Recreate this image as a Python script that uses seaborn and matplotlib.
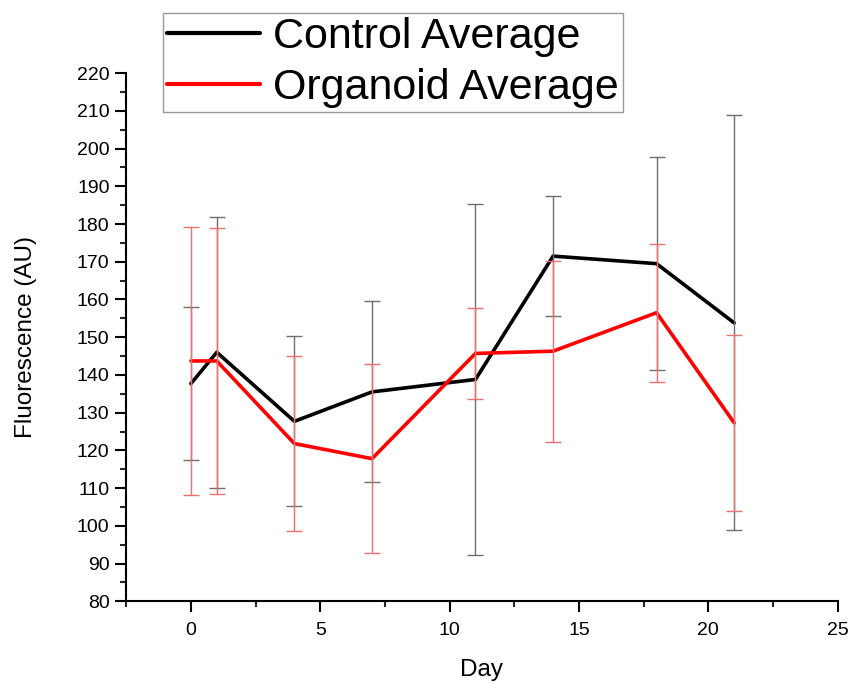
import numpy as np
import pandas as pd
import matplotlib
matplotlib.use("Agg")
import matplotlib.pyplot as plt
from matplotlib.ticker import MultipleLocator
import seaborn as sns

days = [0, 1, 4, 7, 11, 14, 18, 21]
control_mean = [137.7, 146.0, 127.7, 135.5, 138.8, 171.5, 169.5, 153.8]
control_err = [20.3, 36.0, 22.5, 24.0, 46.6, 16.0, 28.2, 55.0]
organoid_mean = [143.7, 143.7, 121.8, 117.8, 145.7, 146.3, 156.5, 127.3]
organoid_err = [35.5, 35.3, 23.3, 25.0, 12.0, 24.0, 18.3, 23.4]

labels = ["Control Average", "Organoid Average"]
colors = {"Control Average": "#000000", "Organoid Average": "#ff0000"}
bar_colors = {"Control Average": "#6e6e6e", "Organoid Average": "#f07070"}

df = pd.DataFrame({
    "Day": days * 2,
    "Fluorescence": control_mean + organoid_mean,
    "err": control_err + organoid_err,
    "Group": [labels[0]] * len(days) + [labels[1]] * len(days),
})

sns.set_style("white")
plt.rcParams["font.family"] = ["Liberation Sans", "DejaVu Sans"]
plt.rcParams["text.color"] = "black"
plt.rcParams["axes.labelcolor"] = "black"

fig = plt.figure(figsize=(8.53, 6.84), dpi=100)
ax = fig.add_axes([0.148, 0.121, 0.834, 0.772])

sns.lineplot(data=df, x="Day", y="Fluorescence", hue="Group",
             palette=colors, linewidth=2.6, ax=ax, legend=False, zorder=2)

for g in labels:
    sub = df[df["Group"] == g]
    ax.errorbar(sub["Day"], sub["Fluorescence"], yerr=sub["err"],
                fmt="none", ecolor=bar_colors[g], elinewidth=1.0,
                capsize=6, capthick=1.0, zorder=3)

ax.set_xlim(-2.5, 25)
ax.set_ylim(80, 220)
ax.xaxis.set_major_locator(MultipleLocator(5))
ax.xaxis.set_minor_locator(MultipleLocator(2.5))
ax.yaxis.set_major_locator(MultipleLocator(10))
ax.yaxis.set_minor_locator(MultipleLocator(5))

for side in ["top", "right"]:
    ax.spines[side].set_visible(False)
for side in ["left", "bottom"]:
    ax.spines[side].set_color("black")
    ax.spines[side].set_linewidth(1.5)

ax.tick_params(which="major", direction="out", length=8, width=1.5, pad=4,
               labelsize=14, colors="black", left=True, bottom=True)
ax.tick_params(axis="x", which="major", pad=7)
ax.tick_params(which="minor", direction="out", length=4.5, width=1.5,
               left=True, bottom=True)

ax.set_xlabel("Day", fontsize=17.5)
ax.set_ylabel("Fluorescence (AU)", fontsize=17.5)
ax.xaxis.set_label_coords(0.5, -0.11)
ax.yaxis.set_label_coords(-0.125, 0.5)

handles = [plt.Line2D([], [], color=colors[g], linewidth=3) for g in labels]
leg = fig.legend(handles, labels, loc="upper left",
                 bbox_to_anchor=(0.191, 0.981), fontsize=31,
                 frameon=True, fancybox=False, handlelength=2.15,
                 handletextpad=0.3, borderpad=0.1, labelspacing=0.25,
                 borderaxespad=0)
leg.get_frame().set_edgecolor("#808080")
leg.get_frame().set_linewidth(1.0)
for t in leg.get_texts():
    t.set_color("black")

fig.savefig("out.png", dpi=100)
